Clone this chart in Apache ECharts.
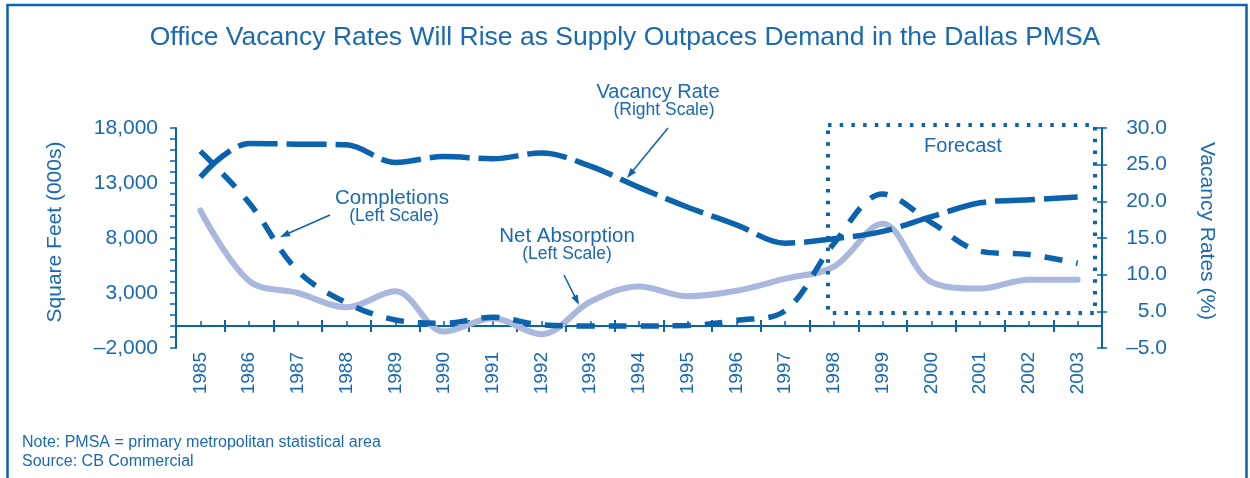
<!DOCTYPE html>
<html>
<head>
<meta charset="utf-8">
<script src="https://cdn.jsdelivr.net/npm/echarts@6/dist/echarts.min.js"></script>
<style>
html,body{margin:0;padding:0;background:#fff;}
#c{width:1250px;height:478px;}
</style>
</head>
<body>
<div id="c"></div>
<script>
// ---- data ----
const years = ['1985','1986','1987','1988','1989','1990','1991','1992','1993','1994','1995','1996','1997','1998','1999','2000','2001','2002','2003'];
const netAbsorption = [10500, 4100, 3000, 1700, 3150, -500, 700, -750, 2200, 3600, 2700, 3200, 4300, 5400, 9300, 4000, 3400, 4200, 4200];
const completions = [15900, 11200, 5000, 2100, 550, 250, 800, 100, 0, 0, 50, 500, 1400, 7500, 12000, 9400, 6800, 6500, 5700];
const vacancyRate = [23.3, 27.9, 27.8, 27.7, 25.3, 26.1, 25.8, 26.6, 24.8, 21.9, 19.2, 16.8, 14.3, 14.9, 15.9, 17.9, 19.8, 20.2, 20.6];
const leftTicks = [-2000, 3000, 8000, 13000, 18000];
const rightTicks = [0, 5, 10, 15, 20, 25, 30];
const rightTickLabels = ['\u20135.0', '5.0', '10.0', '15.0', '20.0', '25.0', '30.0'];

const DARK = '#0b62ad';
const TXT = '#1a69b3';
const LIGHT = '#aab8de';
const FONT = '"Liberation Sans", Arial, Helvetica, sans-serif';

function fmtLeft(v) {
  if (leftTicks.indexOf(v) < 0) return '';
  const s = Math.abs(v).toLocaleString('en-US');
  return (v < 0 ? '\u2013' : '') + s;
}
function fmtRight(v) {
  const i = rightTicks.indexOf(v);
  return i < 0 ? '' : rightTickLabels[i];
}

function arrow(x1, y1, x2, y2) {
  const a = Math.atan2(y2 - y1, x2 - x1);
  const L = 10, W = 3.5;
  const c = Math.cos(a), s = Math.sin(a);
  const bx = x2 - L * c, by = y2 - L * s;
  return [
    {type: 'line', shape: {x1: x1, y1: y1, x2: bx + 2 * c, y2: by + 2 * s}, style: {stroke: DARK, lineWidth: 1.5}, z: 50},
    {type: 'polygon', shape: {points: [[x2, y2], [bx + W * s, by - W * c], [bx - W * s, by + W * c]]}, style: {fill: DARK}, z: 50}
  ];
}
function txt(x, y, t, size) {
  return {type: 'text', x: x, y: y, z: 50, style: {text: t, fill: TXT, font: size + 'px ' + FONT, textAlign: 'center', textVerticalAlign: 'middle'}};
}

const chart = echarts.init(document.getElementById('c'), null, {renderer: 'canvas'});

const baseX = {
  type: 'category', data: years, position: 'bottom', boundaryGap: true,
  axisLine: {onZero: true, onZeroAxisIndex: 0, lineStyle: {color: DARK, width: 2}},
  splitLine: {show: false}
};

const option = {
  animation: false,
  backgroundColor: '#fff',
  textStyle: {fontFamily: FONT},
  title: {
    text: 'Office Vacancy Rates Will Rise as Supply Outpaces Demand in the Dallas PMSA',
    left: 'center', top: 19,
    textStyle: {color: TXT, fontSize: 26.5, fontWeight: 'normal', fontFamily: FONT}
  },
  grid: {left: 176, right: 148, top: 128, bottom: 130, containLabel: false},
  xAxis: [
    Object.assign({}, baseX, {
      axisTick: {show: true, inside: false, length: 6, alignWithLabel: false, lineStyle: {color: DARK, width: 2}},
      axisLabel: {rotate: 90, margin: 4, color: TXT, fontSize: 19, fontFamily: FONT, interval: 0}
    }),
    Object.assign({}, baseX, {
      axisTick: {show: true, inside: true, length: 6, alignWithLabel: false, lineStyle: {color: DARK, width: 2}},
      axisLabel: {show: false}
    }),
    Object.assign({}, baseX, {
      axisTick: {show: true, inside: true, length: 5, alignWithLabel: true, lineStyle: {color: DARK, width: 1.5}},
      axisLabel: {show: false}
    })
  ],
  yAxis: [
    {
      type: 'value', position: 'left', min: -2000, max: 18000, interval: 1000,
      name: 'Square Feet (000s)', nameLocation: 'middle', nameGap: 110,
      nameTextStyle: {color: TXT, fontSize: 21, fontFamily: FONT, padding: [0, 0, 0, 12]},
      axisLine: {show: true, lineStyle: {color: DARK, width: 2}},
      axisTick: {show: true, inside: false, length: 6, lineStyle: {color: DARK, width: 1.5}},
      axisLabel: {color: TXT, fontSize: 21, fontFamily: FONT, margin: 18, formatter: fmtLeft, showMinLabel: true, showMaxLabel: true},
      splitLine: {show: false}
    },
    {
      type: 'value', position: 'right', min: 0, max: 30, interval: 5,
      name: 'Vacancy Rates (%)', nameLocation: 'middle', nameGap: 94, nameRotate: -90,
      nameTextStyle: {color: TXT, fontSize: 21, fontFamily: FONT, padding: [0, 14, 0, 0]},
      axisLine: {show: true, lineStyle: {color: DARK, width: 2}},
      axisTick: {show: true, inside: false, length: 5, lineStyle: {color: DARK, width: 1.5}},
      axisLabel: {color: TXT, fontSize: 21, fontFamily: FONT, margin: 65, align: 'right', formatter: fmtRight},
      splitLine: {show: false}
    },
    {
      type: 'value', position: 'right', min: 0, max: 30, interval: 5,
      axisLine: {show: false},
      axisTick: {show: true, inside: true, length: 5, lineStyle: {color: DARK, width: 1.5}},
      axisLabel: {show: false},
      splitLine: {show: false}
    }
  ],
  series: [
    {
      name: 'Net Absorption', type: 'line', xAxisIndex: 0, yAxisIndex: 0, data: netAbsorption,
      smooth: 0.35, symbol: 'none', z: 3,
      lineStyle: {color: LIGHT, width: 6, cap: 'round'}
    },
    {
      name: 'Completions', type: 'line', xAxisIndex: 0, yAxisIndex: 0, data: completions,
      smooth: 0.35, symbol: 'none', z: 4,
      lineStyle: {color: DARK, width: 5.5, type: [18, 14]}
    },
    {
      name: 'Vacancy Rate', type: 'line', xAxisIndex: 0, yAxisIndex: 1, data: vacancyRate,
      smooth: 0.35, symbol: 'none', z: 5,
      lineStyle: {color: DARK, width: 5.5, type: [40, 9]}
    }
  ],
  graphic: [
    {type: 'rect', shape: {x: 7.5, y: 5, width: 1239, height: 520}, style: {fill: 'none', stroke: DARK, lineWidth: 2.5}, z: 1, silent: true},
    {type: 'rect', shape: {x: 828, y: 125, width: 267, height: 188}, style: {fill: 'none', stroke: DARK, lineWidth: 4, lineDash: [3.5, 8.2]}, z: 40, silent: true},
    txt(963, 146, 'Forecast', 20),
    txt(658, 92, 'Vacancy Rate', 20),
    txt(664, 110, '(Right Scale)', 17.5),
    txt(392, 198, 'Completions', 20.5),
    txt(394, 216, '(Left Scale)', 17.5),
    txt(567, 236, 'Net Absorption', 20.5),
    txt(567, 254, '(Left Scale)', 17.5),
    ...arrow(668, 128, 627, 178),
    ...arrow(330, 215, 280, 237),
    ...arrow(564, 275, 579, 305),
    {type: 'text', x: 22, y: 443, z: 50, style: {text: 'Note: PMSA = primary metropolitan statistical area', fill: TXT, font: '16px ' + FONT, textVerticalAlign: 'middle'}},
    {type: 'text', x: 22, y: 462, z: 50, style: {text: 'Source: CB Commercial', fill: TXT, font: '16px ' + FONT, textVerticalAlign: 'middle'}}
  ]
};
chart.setOption(option);
</script>
</body>
</html>
